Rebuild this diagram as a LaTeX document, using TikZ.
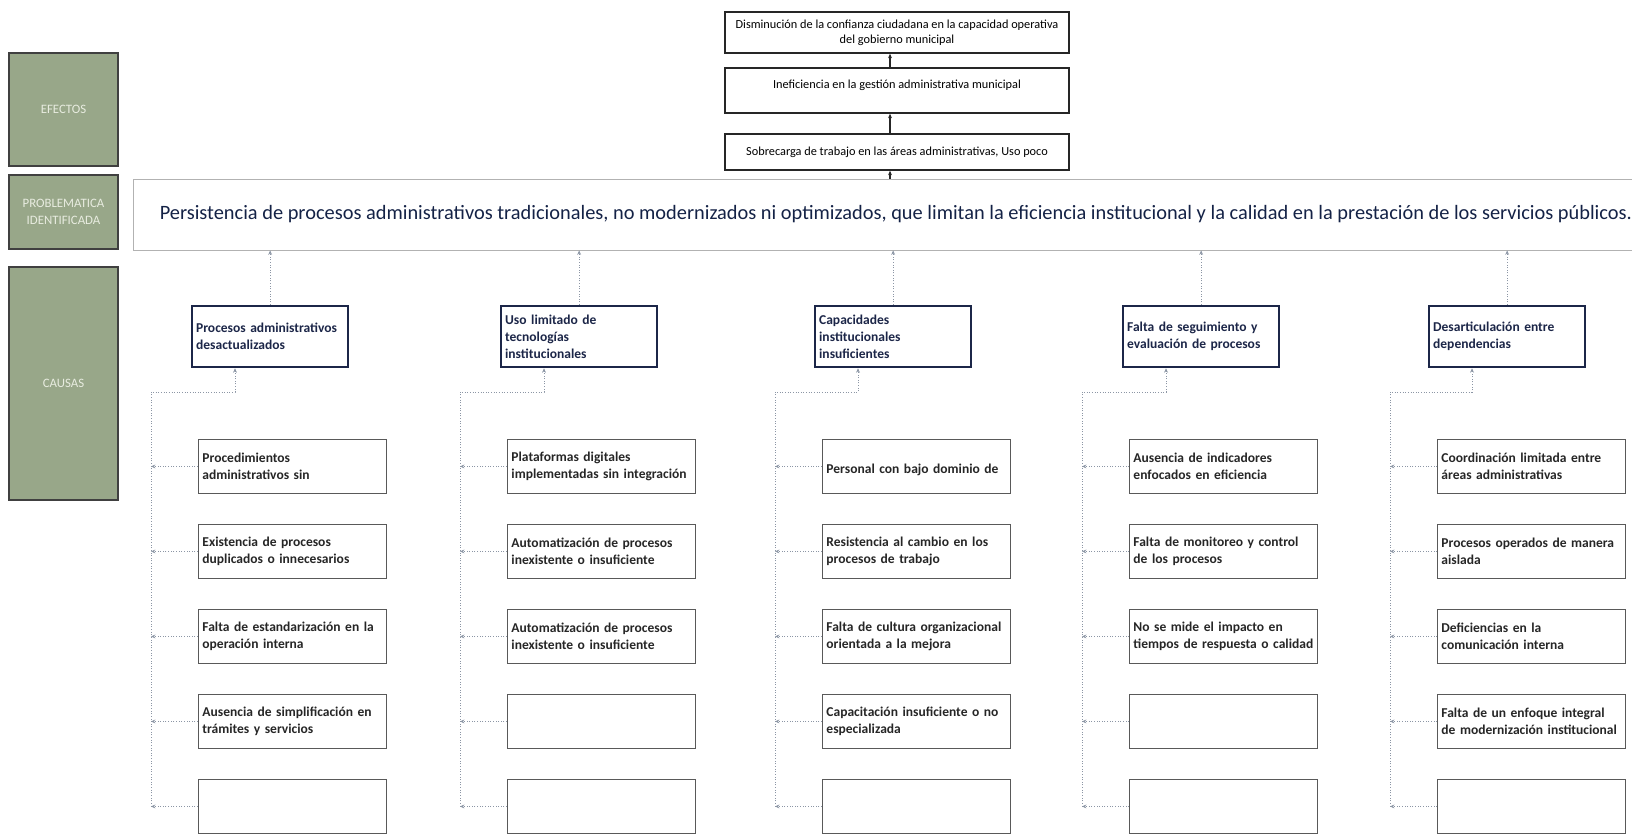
\documentclass[tikz,border=0pt]{standalone}
\usepackage{fontspec}
\setmainfont{Carlito}
\usetikzlibrary{arrows.meta, positioning}
\definecolor{sage}{RGB}{152,167,137}
\definecolor{sagetext}{RGB}{232,236,224}
\definecolor{navyline}{RGB}{28,38,72}
\definecolor{navytext}{RGB}{20,34,70}
\definecolor{linkgray}{RGB}{140,150,165}

\begin{document}
\begin{tikzpicture}[x=0.2mm, y=-0.2mm,
  etiqueta/.style={draw=black!75, line width=0.6pt, fill=sage, text=sagetext, align=center,
    minimum width=21.8mm, font=\fontsize{7.3}{9.3}\selectfont},
  efecto/.style={draw=black!85, line width=0.9pt, minimum width=68.8mm, align=center,
    inner sep=0pt, font=\fontsize{7}{8.3}\selectfont},
  causa/.style={draw=navyline, line width=1.3pt, anchor=north west, minimum height=12.2mm,
    text width=29.6mm, inner xsep=0.8mm, align=left, text=navyline,
    font=\bfseries\fontsize{7.7}{9.7}\selectfont},
  subcausa/.style={draw=black!65, line width=0.5pt, anchor=north west, minimum height=10.8mm,
    text width=36mm, inner xsep=0.8mm, align=left, text=black!85,
    font=\bfseries\fontsize{7.7}{9.7}\selectfont},
  flecha/.style={black!85, line width=0.6pt, -{Stealth[length=2.5pt,width=2.2pt]}},
  enlace/.style={linkgray, densely dotted, line width=0.5pt, -{Stealth[length=2.5pt,width=2.2pt]}}
]
  \useasboundingbox (0,0) rectangle (1632,834);
  \clip (0,0) rectangle (1632,834);

  % Etiquetas laterales
  \node[etiqueta, minimum height=22.6mm] (efectos) at (63.5,109.5) {EFECTOS};
  \node[etiqueta, minimum height=14.8mm] (problematica) at (63.5,212) {PROBLEMATICA\\IDENTIFICADA};
  \node[etiqueta, minimum height=46.6mm] (causas) at (63.5,383.5) {CAUSAS};

  % Efectos
  \node[efecto, minimum height=8.2mm] (E1) at (897,32.5)
    {Disminución de la confianza ciudadana en la capacidad operativa\\del gobierno municipal};
  \node[efecto, minimum height=9mm, text depth=2.6mm] (E2) at (897,90.5)
    {Ineficiencia en la gestión administrativa municipal};
  \node[efecto, minimum height=7.2mm] (E3) at (897,152)
    {Sobrecarga de trabajo en las áreas administrativas, Uso poco};

  % Problema central
  \node[draw=black!30, line width=0.5pt, anchor=west, minimum height=14.2mm, minimum width=305mm,
    inner xsep=4.6mm, align=left, text=navytext, font=\fontsize{11.6}{13.6}\selectfont] (prob) at (133,214.5)
    {Persistencia de procesos administrativos tradicionales, no modernizados ni optimizados, que limitan la eficiencia institucional y la calidad en la prestación de los servicios públicos.};

  \draw[flecha] ([xshift=-1.4mm]E3.south |- prob.north) -- ([xshift=-1.4mm]E3.south);
  \draw[flecha] ([xshift=-1.4mm]E3.north) -- ([xshift=-1.4mm]E2.south);
  \draw[flecha] ([xshift=-1.4mm]E2.north) -- ([xshift=-1.4mm]E1.south);

  % Causas
  \foreach \i/\hx/\txt in {1/191/{Procesos administrativos\\desactualizados},
      2/500/{Uso limitado de\\tecnologías\\institucionales},
      3/814/{Capacidades\\institucionales\\insuficientes},
      4/1122/{Falta de seguimiento y\\evaluación de procesos},
      5/1428/{Desarticulación entre\\dependencias}}
    \node[causa] (H\i) at (\hx,305) {\txt};

  % columna 1
  \foreach \j/\txt in {1/{Procedimientos\\administrativos sin},
      2/{Existencia de procesos\\duplicados o innecesarios},
      3/{Falta de estandarización en la\\operación interna},
      4/{Ausencia de simplificación en\\trámites y servicios}, 5/{}}
    \node[subcausa] (C1\j) at (198,354+85*\j) {\txt};

  % columna 2
  \foreach \j/\txt in {1/{Plataformas digitales\\implementadas sin integración},
      2/{Automatización de procesos\\inexistente o insuficiente},
      3/{Automatización de procesos\\inexistente o insuficiente}, 4/{}, 5/{}}
    \node[subcausa] (C2\j) at (507,354+85*\j) {\txt};

  % columna 3
  \foreach \j/\txt in {1/{\mbox{}\\Personal con bajo dominio de},
      2/{Resistencia al cambio en los\\procesos de trabajo},
      3/{Falta de cultura organizacional\\orientada a la mejora},
      4/{Capacitación insuficiente o no\\especializada}, 5/{}}
    \node[subcausa] (C3\j) at (822,354+85*\j) {\txt};

  % columna 4
  \foreach \j/\txt in {1/{Ausencia de indicadores\\enfocados en eficiencia},
      2/{Falta de monitoreo y control\\de los procesos},
      3/{No se mide el impacto en\\tiempos de respuesta o calidad}, 4/{}, 5/{}}
    \node[subcausa] (C4\j) at (1129,354+85*\j) {\txt};

  % columna 5
  \foreach \j/\txt in {1/{Coordinación limitada entre\\áreas administrativas},
      2/{Procesos operados de manera\\aislada},
      3/{Deficiencias en la\\comunicación interna},
      4/{Falta de un enfoque integral\\de modernización institucional}, 5/{}}
    \node[subcausa] (C5\j) at (1437,354+85*\j) {\txt};

  % Conectores
  \foreach \i/\cx in {1/198,2/507,3/822,4/1129,5/1437} {
    \coordinate (T\i) at (\cx-47,392);
    \draw[enlace] (H\i.north) -- (H\i.north |- prob.south);
    \draw[enlace] (T\i |- C\i5.west) -- (T\i) -| ([xshift=8.8mm]H\i.south west);
    \foreach \j in {1,...,5}
      \draw[enlace] (C\i\j.west) -- (C\i\j.west -| T\i);
  }
\end{tikzpicture}
\end{document}
